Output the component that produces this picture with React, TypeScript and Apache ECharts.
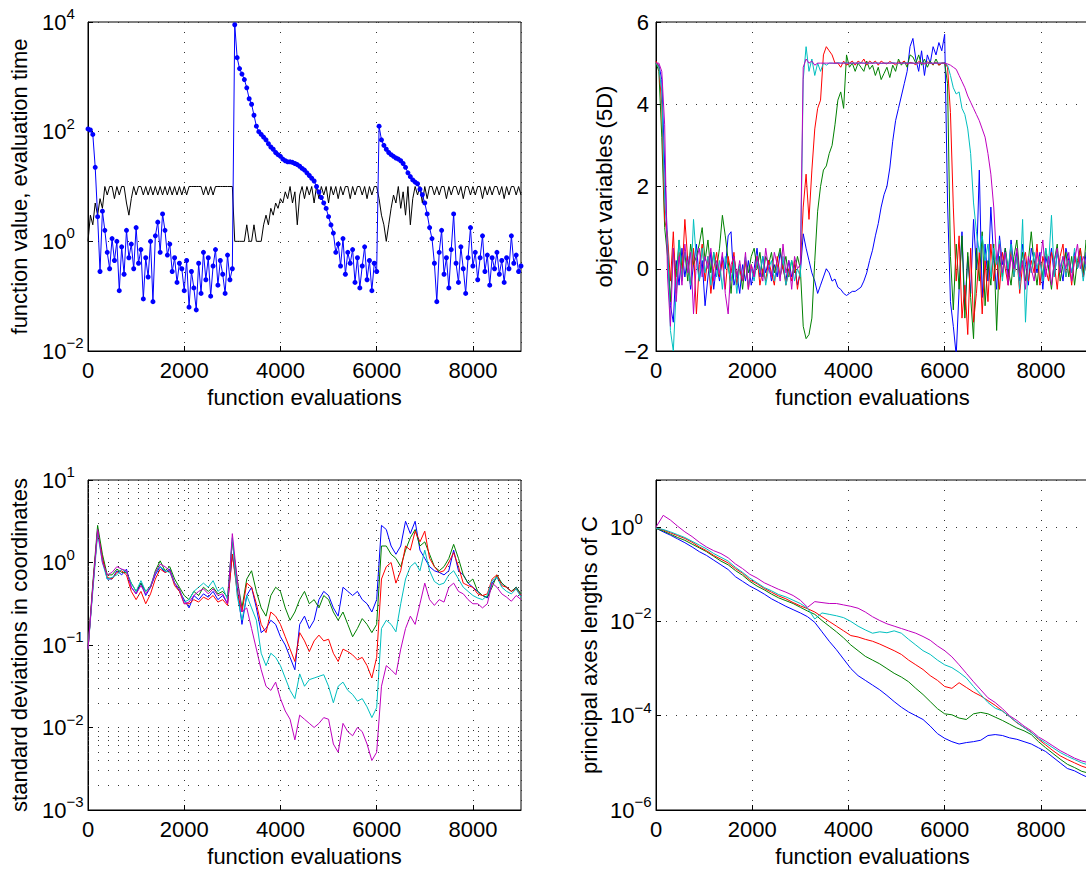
import React, { useEffect, useRef } from "react";
import * as echarts from "echarts";

const FONT = '"Liberation Sans", Arial, Helvetica, sans-serif';

// ---------- sampling of the evaluation axis ----------
const STEP_FVAL = 50; // top-left
const STEP_XVAR = 60; // top-right
const STEP_SIGMA = 100; // bottom-left
const STEP_AXES = 150; // bottom-right
const xTicks = [0, 2000, 4000, 6000, 8000];

// ---------- top-left: function value (log10) and evaluation time ----------
const fvalLog10 = [
  2.05, 2.03, 1.95, 1.35, 0.45, -0.55, 0.55, 0.2, -0.2, -0.5,
  0.05, -0.35, 0.0, -0.9, -0.1, -0.6, 0.2, -0.3, -0.05, -0.5,
  0.25, -0.4, -0.15, -1.05, -0.3, -0.65, 0.0, -1.1, 0.1, 0.35,
  -0.2, 0.5, 0.2, -0.25, -0.05, -0.55, -0.3, -0.75, -0.4, -0.5,
  -0.9, -0.35, -1.2, -0.55, -0.85, -1.25, -0.4, -0.95, -0.2, -0.7,
  -0.3, -1.0, -0.45, -0.15, -0.8, -0.35, -0.6, -0.95, -0.25, -0.7,
  -0.5, 3.95, 3.35, 3.15, 3.05, 2.95, 2.8, 2.6, 2.5, 2.3,
  2.1, 2.0, 1.95, 1.9, 1.85, 1.78, 1.72, 1.68, 1.62, 1.58,
  1.55, 1.5, 1.47, 1.45, 1.45, 1.44, 1.42, 1.4, 1.37, 1.33,
  1.3, 1.25, 1.2, 1.15, 1.1, 1.0, 0.9, 0.8, 0.7, 0.6,
  0.45, 0.3, 0.15, -0.2, -0.05, -0.45, 0.05, -0.6, -0.2, -0.4,
  -0.15, -0.75, -0.3, -0.85, -0.45, -0.1, -0.7, -0.35, -0.9, -0.4,
  -0.55, 2.1, 1.85, 1.75, 1.68, 1.62, 1.58, 1.55, 1.52, 1.5,
  1.47, 1.42, 1.35, 1.25, 1.18, 1.12, 1.08, 1.05, 0.95, 0.85,
  0.7, 0.5, 0.25, 0.05, -0.4, -1.1, -0.2, 0.2, -0.6, -0.3,
  -0.85, -0.15, 0.5, -0.4, -0.75, -0.1, -0.5, -0.95, -0.3, 0.25,
  -0.45, -0.2, -0.7, -0.3, 0.1, -0.55, -0.25, -0.8, -0.3, -0.5,
  -0.2, -0.6, -0.35, -0.75, -0.3, -0.5, 0.1, -0.4, -0.25, -0.55, -0.45,
];
const evalTime = [
  1, 3, 2, 5, 3, 6, 4, 10, 7, 10,
  10, 6, 10, 7, 10, 10, 5, 3, 6, 10,
  7, 10, 10, 7, 10, 7, 10, 7, 10, 7,
  10, 7, 10, 7, 10, 7, 10, 7, 10, 7,
  10, 7, 10, 10, 10, 10, 10, 10, 7, 10,
  7, 10, 7, 10, 10, 10, 10, 10, 10, 10,
  10, 1, 1, 1, 1, 1, 2, 1, 1, 2,
  1, 1, 1, 2, 3, 2, 4, 3, 5, 4,
  6, 5, 8, 6, 10, 5, 8, 2, 7, 10,
  6, 10, 7, 10, 5, 10, 6, 10, 7, 10,
  5, 10, 7, 10, 6, 10, 7, 10, 10, 6,
  10, 7, 10, 10, 7, 10, 6, 10, 7, 10,
  10, 6, 3, 2, 1, 2, 4, 7, 5, 10,
  4, 8, 3, 10, 2, 6, 10, 7, 10, 5,
  10, 6, 10, 10, 7, 10, 7, 10, 10, 6,
  10, 7, 10, 10, 7, 10, 6, 10, 10, 7,
  10, 7, 10, 10, 6, 10, 7, 10, 7, 10,
  10, 7, 10, 6, 10, 7, 10, 10, 7, 10, 7,
];

// ---------- top-right: object variables ----------
const xvarBlue = [
  5.0, 4.95, 4.6, 2.5, 0.6, -0.9, -1.3, 0.2, -0.4, 0.5,
  -0.2, 0.3, -0.5, 0.1, 0.6, -0.3, 0.2, -0.9, -0.2, 0.4,
  -0.5, 0.1, -0.3, 0.3, 0.0, 0.8, 0.9, -0.4, -0.1, -0.6,
  0.1, -0.3, 0.2, -0.4, 0.0, 0.5, -0.2, 0.3, -0.1, 0.2,
  -0.3, 0.1, -0.2, 0.4, 0.0, -0.3, 0.2, -0.2, 0.1, -0.4,
  -0.1, 0.85, 0.5, 0.2, -0.1, -0.3, -0.6, -0.4, -0.2, 0.0,
  -0.1, -0.3, -0.25, -0.45, -0.5, -0.6, -0.65, -0.6, -0.55, -0.55,
  -0.5, -0.45, -0.3, -0.1, 0.2, 0.45, 0.8, 1.1, 1.5, 1.8,
  2.0, 2.45, 3.1, 3.6, 3.9, 4.2, 4.5, 4.8, 5.4, 5.6,
  5.1, 4.8, 5.3, 4.7, 5.2, 5.0, 5.4, 5.2, 5.5, 5.3,
  5.7, 1.6, -0.8, -1.4, -2.1, -0.5, 0.9, -1.0, 0.3, -0.6,
  1.2, 0.0, 2.4, -0.7, 0.6, -0.3, 1.5, 0.2, -0.5, 0.8,
  0.1, 0.5, -0.2, 0.7, 0.0, 0.4, -0.3, 0.6, 0.1, -0.4,
  0.5, 0.2, -0.1, 0.4, -0.5, 0.3, 0.0, 0.5, -0.2, 0.4,
  0.1, -0.3, 0.5, 0.2, -0.1, 0.4, 0.0, 0.3, -0.2, 0.4, 0.1,
];
const xvarGreen = [
  5.0, 4.8, 3.2, 1.0, 0.3, -0.8, 0.5, -0.2, 0.7, 0.0,
  0.4, -0.3, 0.6, 0.1, 0.3, 0.6, 1.0, 0.2, 0.7, -0.1,
  0.4, 0.0, 0.5, 1.3, 0.8, 0.2, -0.6, 0.3, -0.2, 0.1,
  -0.5, 0.2, -0.1, 0.3, 0.5, 0.0, 0.4, -0.2, 0.3, 0.1,
  0.4, -0.1, 0.2, 0.5, 0.0, 0.3, -0.2, 0.2, -0.1, 0.3,
  0.0, -1.4, -1.7, -1.6, -1.2, 0.2, 1.4, 2.0, 2.4, 2.5,
  2.8, 3.0, 3.5, 4.1, 4.3, 3.9, 5.2, 4.9, 5.0, 4.8,
  5.0, 4.9, 4.8, 5.05, 4.85, 4.95, 4.7, 4.9, 4.6, 4.75,
  4.9, 4.65, 4.95, 4.8, 5.1, 4.95, 5.05, 4.9, 5.2, 5.15,
  5.0, 5.2, 4.95, 5.1, 4.9, 5.05, 4.95, 5.1, 4.95, 5.0,
  5.0, 4.5, 0.3, -1.0, 0.6, -0.5, 0.8, -1.2, 0.4, -0.7,
  -1.7, 0.5, -0.3, 0.9, -0.9, 0.2, -0.4, 0.6, -1.5, 0.3,
  -0.2, 0.5, 0.0, -0.4, 0.3, 0.7, -0.1, 0.4, -0.3, 0.2,
  0.9, 0.1, -0.4, 0.3, -0.2, 0.5, 0.0, -0.5, 0.2, 0.6,
  -0.3, 0.1, 0.4, -0.2, 0.3, -0.4, 0.2, 0.5, -0.1, 0.7, 0.2,
];
const xvarRed = [
  5.05, 4.9, 4.0, 1.2, 0.8, -0.3, 0.9, -0.6, 0.4, -0.2,
  1.2, 0.2, -0.4, 0.5, -1.1, 0.1, 0.6, -0.3, 0.3, -0.6,
  0.0, 0.4, -0.2, 0.2, -0.5, 0.3, -0.1, 0.4, -0.4, 0.0,
  -0.3, 0.2, -0.5, 0.1, -0.2, 0.3, -0.4, 0.0, -0.3, 0.2,
  -0.1, -0.4, 0.3, -0.2, 0.1, -0.4, 0.0, -0.3, 0.2, -0.5,
  0.0, 1.5, 2.3, 1.2, 2.4, 3.4, 3.9, 4.1, 5.2, 5.4,
  5.3, 5.2, 5.0, 5.0, 4.9, 5.05, 4.95, 5.0, 5.05, 4.95,
  5.05, 5.0, 5.1, 4.95, 5.05, 5.0, 5.05, 4.95, 5.05, 5.0,
  4.98, 5.04, 5.0, 4.96, 5.03, 5.0, 5.05, 4.97, 5.02, 5.0,
  4.96, 5.04, 5.0, 4.98, 5.03, 5.0, 4.97, 5.02, 4.95, 5.0,
  5.0, 4.9, 3.8, 1.5, -0.3, 0.8, -1.2, -0.4, -1.6, 0.5,
  -1.3, -0.6, 0.4, -1.1, 0.2, -0.8, 0.6, -0.3, 0.3, -0.5,
  0.4, 0.0, -0.4, 0.5, -0.2, 0.3, -0.6, 0.1, 0.4, -0.3,
  0.2, -0.1, 0.6, -0.4, 0.3, 0.0, -0.3, 0.4, 0.1, -0.5,
  0.3, 0.6, -0.2, 0.2, -0.4, 0.3, 0.0, 0.5, -0.2, 0.1, -0.9,
];
const xvarCyan = [
  5.0, 4.9, 4.3, 1.7, 0.6, -1.5, -2.0, -0.5, 0.7, -0.3,
  0.4, 0.1, -0.4, 1.2, 0.2, -0.3, 0.5, -0.1, 0.3, -0.4,
  0.4, -0.2, 0.2, -0.5, 0.3, 0.0, -0.3, 0.2, -0.6, 0.1,
  -0.2, 0.3, -0.4, 0.0, -0.3, 0.2, -0.1, 0.3, -0.4, 0.0,
  0.2, -0.3, 0.1, -0.2, 0.3, -0.4, -0.1, 0.2, -0.3, 0.0,
  -0.2, 4.6, 5.4, 4.8, 5.1, 4.7, 5.0, 4.8, 5.0, 4.95,
  5.0, 5.0, 4.99, 5.01, 5.0, 5.0, 5.01, 4.99, 5.0, 5.0,
  5.0, 5.01, 5.0, 4.99, 5.0, 5.0, 5.01, 5.0, 4.99, 5.0,
  5.0, 5.0, 5.01, 5.0, 4.99, 5.0, 5.0, 5.01, 5.0, 5.0,
  4.99, 5.0, 5.0, 5.01, 5.0, 5.0, 4.99, 5.0, 5.0, 5.0,
  5.0, 4.95, 4.7, 4.4, 4.25, 4.3, 3.9, 3.75, 3.4, 2.8,
  1.6, 0.9, 0.4, 0.8, 0.2, 0.6, -0.2, 0.5, 0.1, 0.7,
  -0.3, 0.4, 0.0, 0.6, -0.2, 0.3, -0.5, 1.2, -1.3, 0.2,
  -0.1, 0.4, 0.0, 0.3, -0.3, 0.5, 0.1, 1.3, -0.2, 0.4,
  0.0, 0.3, -0.2, 0.2, -0.1, 0.5, 0.0, 0.3, -0.3, 0.2, -0.5,
];
const xvarMagenta = [
  5.0, 5.0, 4.8, 3.5, -0.2, -1.4, 0.5, -0.8, 0.3, -0.4,
  0.6, -0.1, 0.4, -1.1, 0.2, 0.5, -0.2, 0.3, 0.0, 0.5,
  -0.3, 0.2, -0.1, 0.4, -0.6, -1.1, 0.1, 0.3, -0.2, 0.2,
  -0.3, 0.4, -0.5, 0.1, -0.2, 0.3, 0.0, -0.3, 0.5, 0.0,
  -0.2, 0.4, 0.1, -0.3, 0.6, -0.1, 0.2, -0.5, 0.3, 0.0,
  0.1, 4.9, 5.1, 5.0, 5.05, 4.95, 5.0, 5.0, 5.0, 5.0,
  5.0, 5.0, 5.0, 5.0, 5.0, 5.0, 5.0, 5.0, 5.0, 5.0,
  5.0, 5.0, 5.0, 5.0, 5.0, 5.0, 5.0, 5.0, 5.0, 5.0,
  5.0, 5.0, 5.0, 5.0, 5.0, 5.0, 5.0, 5.0, 5.0, 5.0,
  5.0, 5.0, 5.0, 5.0, 5.0, 5.0, 5.0, 5.0, 5.0, 5.0,
  5.0, 4.98, 4.95, 4.9, 4.85, 4.7, 4.55, 4.4, 4.2, 4.05,
  3.9, 3.75, 3.6, 3.4, 3.2, 2.8, 2.3, 1.5, 0.2, 0.6,
  -0.1, 0.4, -0.4, 0.3, 0.0, 0.5, -0.2, 0.2, -0.5, 0.3,
  0.0, -0.3, 0.4, 0.1, 0.7, -0.2, 0.3, -0.4, 0.2, 0.5,
  -0.1, 0.3, 0.0, 0.4, -0.3, 0.2, 0.6, 0.0, 0.3, 0.1, 0.3,
];

// ---------- bottom-left: standard deviations (log10) ----------
const sigmaBlue = [
  -1.05, -0.3, 0.4, 0.05, -0.2, -0.2, -0.1, -0.15, -0.08, -0.3,
  -0.38, -0.25, -0.4, -0.3, -0.15, -0.05, -0.12, -0.08, -0.25, -0.35,
  -0.45, -0.55, -0.4, -0.45, -0.38, -0.42, -0.35, -0.45, -0.4, -0.5,
  0.1, -0.3, -0.75, -0.4, -0.3, -0.55, -0.85, -0.8, -0.7, -0.75,
  -0.9, -1.0, -1.15, -1.3, -0.75, -0.65, -0.8, -0.7, -0.45, -0.35,
  -0.4, -0.55, -0.65, -0.3, -0.35, -0.4, -0.35, -0.45, -0.5, -0.6,
  -0.45, 0.45, 0.4, 0.2, 0.1, 0.2, 0.5, 0.35, 0.5, 0.15,
  0.05, -0.05, -0.1, -0.12, -0.15, -0.1, 0.15, -0.1, -0.15, -0.25,
  -0.3, -0.35, -0.4, -0.43, -0.25, -0.18, -0.25, -0.3, -0.35, -0.3, -0.4,
];
const sigmaGreen = [
  -1.05, -0.25, 0.45, 0.1, -0.15, -0.15, -0.08, -0.12, -0.12, -0.25,
  -0.35, -0.25, -0.35, -0.3, -0.1, 0.02, -0.1, -0.05, -0.2, -0.3,
  -0.4, -0.45, -0.35, -0.4, -0.3, -0.35, -0.3, -0.38, -0.35, -0.42,
  0.25, -0.2, -0.55, -0.2, -0.1, -0.35, -0.55, -0.65, -0.4, -0.3,
  -0.35, -0.55, -0.7, -0.6, -0.45, -0.35, -0.5, -0.45, -0.55, -0.4,
  -0.45, -0.6, -0.7, -0.6, -0.75, -0.9, -0.8, -0.68, -0.75, -0.85,
  -0.75, 0.2, 0.2, 0.1, 0.05, -0.05, 0.15, 0.3, 0.4, 0.2,
  0.25, 0.1, -0.05, -0.1, -0.05, 0.05, 0.22, 0.05, -0.15, -0.25,
  -0.2, -0.35, -0.4, -0.42, -0.3, -0.15, -0.25, -0.3, -0.35, -0.3, -0.38,
];
const sigmaRed = [
  -1.05, -0.3, 0.38, 0.05, -0.18, -0.2, -0.12, -0.1, -0.15, -0.35,
  -0.45, -0.35, -0.5, -0.38, -0.2, -0.08, -0.12, -0.1, -0.28, -0.35,
  -0.5, -0.5, -0.45, -0.48, -0.42, -0.45, -0.4, -0.48, -0.45, -0.52,
  0.1, -0.35, -0.6, -0.25, -0.3, -0.5, -0.75, -0.85, -0.6, -0.65,
  -0.75, -0.9, -1.05, -1.2, -0.85, -0.95, -1.08, -0.95, -0.88, -0.95,
  -0.93, -1.1, -1.2, -1.05, -1.08, -1.12, -1.18, -1.15, -1.25, -1.4,
  -1.15, -0.2, -0.05, 0.0, -0.25, -0.1, 0.2, 0.15, 0.38, 0.25,
  0.38, 0.05, -0.05, -0.12, -0.1, 0.0, 0.12, -0.05, -0.25, -0.28,
  -0.3, -0.38, -0.4, -0.38, -0.2, -0.15, -0.28, -0.3, -0.35, -0.32, -0.4,
];
const sigmaCyan = [
  -1.05, -0.35, 0.35, 0.0, -0.2, -0.18, -0.15, -0.08, -0.12, -0.25,
  -0.35, -0.22, -0.35, -0.28, -0.12, -0.05, -0.1, -0.12, -0.25, -0.32,
  -0.48, -0.45, -0.35, -0.3, -0.25, -0.3, -0.22, -0.35, -0.3, -0.45,
  0.3, -0.4, -0.7, -0.4, -0.55, -0.7, -1.1, -1.25, -1.1, -1.15,
  -1.25, -1.4, -1.55, -1.65, -1.35, -1.5, -1.42, -1.4, -1.38, -1.36,
  -1.5, -1.7, -1.5, -1.45, -1.55, -1.6, -1.68, -1.65, -1.75, -1.88,
  -1.76, -0.8, -0.7, -0.75, -0.84, -0.5, -0.2, -0.05, 0.0, -0.1,
  0.15, -0.1, -0.23, -0.27, -0.25, -0.15, -0.1, -0.2, -0.3, -0.35,
  -0.4, -0.43, -0.45, -0.4, -0.22, -0.18, -0.3, -0.35, -0.38, -0.32, -0.42,
];
const sigmaMagenta = [
  -1.05, -0.3, 0.4, 0.0, -0.15, -0.12, -0.05, -0.08, -0.1, -0.3,
  -0.38, -0.28, -0.38, -0.3, -0.12, -0.02, -0.05, -0.1, -0.25, -0.32,
  -0.5, -0.48, -0.4, -0.35, -0.32, -0.38, -0.32, -0.4, -0.38, -0.5,
  0.35, -0.2, -0.6, -0.55, -0.8, -1.05, -1.3, -1.5, -1.55, -1.45,
  -1.65, -1.8, -1.9, -2.15, -1.85, -1.9, -1.95, -2.0, -1.95, -1.88,
  -1.9, -2.2, -2.3, -1.95, -2.05, -2.1, -2.0, -2.05, -2.2, -2.4,
  -2.3, -1.5, -1.25, -1.3, -1.36, -1.05, -0.8, -0.65, -0.75, -0.5,
  -0.25, -0.45, -0.52, -0.45, -0.48, -0.3, -0.25, -0.35, -0.38, -0.45,
  -0.5, -0.5, -0.55, -0.5, -0.25, -0.3, -0.38, -0.42, -0.47, -0.4, -0.45,
];
const sigmaMinorGrid = [
  0.002, 0.003, 0.004, 0.005, 0.006, 0.007, 0.008, 0.009,
  0.02, 0.03, 0.04, 0.05, 0.06, 0.07, 0.08, 0.09,
  0.2, 0.3, 0.4, 0.5, 0.6, 0.7, 0.8, 0.9,
  2, 3, 4, 5, 6, 7, 8, 9,
];

// ---------- bottom-right: principal axes lengths (log10) ----------
const axesBlue = [
  -0.02, -0.1, -0.17, -0.25, -0.33, -0.42, -0.52, -0.6, -0.7, -0.8,
  -0.9, -1.05, -1.15, -1.25, -1.33, -1.42, -1.52, -1.6, -1.68, -1.75,
  -1.82, -1.9, -2.02, -2.22, -2.42, -2.6, -2.8, -3.0, -3.15, -3.25,
  -3.35, -3.45, -3.57, -3.7, -3.82, -3.92, -4.0, -4.08, -4.22, -4.38,
  -4.48, -4.55, -4.6, -4.57, -4.55, -4.52, -4.42, -4.4, -4.42, -4.47,
  -4.5, -4.55, -4.6, -4.68, -4.76, -4.88, -5.0, -5.12, -5.17, -5.25, -5.32,
];
const axesGreen = [
  -0.03, -0.08, -0.15, -0.22, -0.28, -0.36, -0.44, -0.52, -0.62, -0.72,
  -0.8, -0.92, -1.02, -1.15, -1.25, -1.33, -1.42, -1.5, -1.56, -1.62,
  -1.7, -1.78, -1.85, -1.98, -2.1, -2.22, -2.35, -2.5, -2.62, -2.74,
  -2.82, -2.9, -3.0, -3.1, -3.18, -3.28, -3.42, -3.55, -3.7, -3.85,
  -3.96, -3.98, -4.05, -4.08, -3.96, -3.93, -3.96, -4.03, -4.1, -4.18,
  -4.26, -4.32, -4.4, -4.55, -4.68, -4.8, -4.92, -5.03, -5.1, -5.18, -5.22,
];
const axesRed = [
  -0.02, -0.06, -0.12, -0.18, -0.24, -0.32, -0.42, -0.5, -0.6, -0.68,
  -0.76, -0.88, -0.98, -1.12, -1.2, -1.3, -1.38, -1.46, -1.52, -1.6,
  -1.67, -1.73, -1.8, -1.9, -2.0, -2.1, -2.2, -2.3, -2.33, -2.38,
  -2.42, -2.48, -2.55, -2.62, -2.7, -2.82, -2.92, -3.02, -3.15, -3.25,
  -3.38, -3.42, -3.3, -3.4, -3.5, -3.58, -3.68, -3.78, -3.9, -4.02,
  -4.15, -4.25, -4.35, -4.5, -4.62, -4.74, -4.85, -4.93, -5.0, -5.07, -5.12,
];
const axesCyan = [
  -0.02, -0.05, -0.1, -0.16, -0.22, -0.3, -0.38, -0.46, -0.56, -0.64,
  -0.72, -0.85, -0.96, -1.08, -1.18, -1.28, -1.35, -1.43, -1.48, -1.55,
  -1.62, -1.72, -1.95, -1.82, -1.85, -1.88, -1.92, -2.0, -2.1, -2.18,
  -2.25, -2.22, -2.24, -2.2, -2.25, -2.38, -2.5, -2.62, -2.7, -2.82,
  -2.92, -2.98, -3.08, -3.2, -3.38, -3.55, -3.72, -3.84, -3.9, -4.02,
  -4.14, -4.25, -4.36, -4.48, -4.58, -4.68, -4.78, -4.86, -4.93, -5.0, -5.05,
];
const axesMagenta = [
  0.0, 0.25, 0.15, 0.02, -0.1, -0.2, -0.32, -0.42, -0.5, -0.56,
  -0.65, -0.78, -0.88, -1.0, -1.08, -1.18, -1.25, -1.32, -1.38, -1.45,
  -1.55, -1.7, -1.58, -1.6, -1.62, -1.62, -1.65, -1.68, -1.72, -1.8,
  -1.9, -1.98, -2.05, -2.1, -2.15, -2.2, -2.25, -2.32, -2.4, -2.52,
  -2.62, -2.75, -2.92, -3.1, -3.28, -3.45, -3.62, -3.72, -3.85, -4.0,
  -4.1, -4.22, -4.32, -4.45, -4.54, -4.64, -4.74, -4.82, -4.9, -4.96, -5.0,
];

const C = {
  blue: "#0000ff",
  green: "#008000",
  red: "#ff0000",
  cyan: "#00bfbf",
  magenta: "#bf00bf",
  black: "#000000",
};

const toPts = (vals: number[], step: number) => vals.map((v, i) => [i * step, v]);

const minus = (n: number) => (n < 0 ? "\u2212" + Math.abs(n) : String(n));

const dotted = { color: "#333", width: 1, type: [1, 9] as number[] };

const richLog = {
  b: { fontSize: 22, fontFamily: FONT, color: "#000", lineHeight: 32, verticalAlign: "middle" },
  e: { fontSize: 15, fontFamily: FONT, color: "#000", lineHeight: 15, verticalAlign: "top" },
};

function logLabel(v: number) {
  const e = Math.round(v);
  if (Math.abs(v - e) > 1e-6) return "";
  return `{b|10}{e|${minus(e)}}`;
}

function xAxis(gridIndex: number) {
  return {
    type: "value",
    gridIndex,
    min: 0,
    max: 9000,
    interval: 2000,
    name: "function evaluations",
    nameLocation: "middle",
    nameGap: 35,
    nameTextStyle: { fontSize: 22, fontFamily: FONT, color: "#000" },
    axisLine: { show: true, onZero: false, lineStyle: { color: "#000", width: 1 } },
    axisTick: { show: true, inside: true, length: 5, lineStyle: { color: "#000" } },
    axisLabel: {
      fontSize: 22,
      fontFamily: FONT,
      color: "#000",
      margin: 8,
      showMaxLabel: false,
      formatter: (v: number) => (xTicks.includes(v) ? String(v) : ""),
    },
    splitLine: { show: true, lineStyle: dotted },
  };
}

function yAxisLog(gridIndex: number, min: number, max: number, interval: number, name: string, nameGap: number) {
  return {
    type: "value",
    gridIndex,
    min,
    max,
    interval,
    name,
    nameLocation: "middle",
    nameRotate: 90,
    nameGap,
    nameTextStyle: { fontSize: 22, fontFamily: FONT, color: "#000" },
    axisLine: { show: true, onZero: false, lineStyle: { color: "#000", width: 1 } },
    axisTick: { show: true, inside: true, length: 5, lineStyle: { color: "#000" } },
    axisLabel: {
      align: "left",
      margin: 46,
      formatter: (v: number) => (v > max - 1e-9 && (max - min) % interval !== 0 ? "" : logLabel(v)),
      rich: richLog,
    },
    splitLine: { show: true, lineStyle: dotted },
  };
}

function line(name: string, data: number[][], color: string, xi: number, extra: any = {}) {
  return {
    type: "line",
    name,
    xAxisIndex: xi,
    yAxisIndex: xi,
    data,
    symbol: "none",
    lineStyle: { color, width: 1 },
    itemStyle: { color },
    silent: true,
    clip: true,
    ...extra,
  };
}

function buildOption() {
  const grids = [
    { left: 88, top: 22, width: 433, height: 329 },
    { left: 656, top: 22, width: 433, height: 329 },
    { left: 88, top: 480, width: 433, height: 330 },
    { left: 656, top: 480, width: 433, height: 330 },
  ].map((g) => ({ ...g, show: true, borderColor: "#000", borderWidth: 1, backgroundColor: "#fff", containLabel: false, outerBoundsMode: "none" }));

  const series: any[] = [
    line("evaluation time", evalTime.map((v, i) => [i * STEP_FVAL, Math.log10(v)]), C.black, 0),
    line("function value", toPts(fvalLog10, STEP_FVAL), C.blue, 0, {
      symbol: "circle",
      symbolSize: 5,
      showSymbol: true,
    }),
    line("x1", toPts(xvarBlue, STEP_XVAR), C.blue, 1),
    line("x2", toPts(xvarGreen, STEP_XVAR), C.green, 1),
    line("x3", toPts(xvarRed, STEP_XVAR), C.red, 1),
    line("x4", toPts(xvarCyan, STEP_XVAR), C.cyan, 1),
    line("x5", toPts(xvarMagenta, STEP_XVAR), C.magenta, 1),
    line("s1", toPts(sigmaBlue, STEP_SIGMA), C.blue, 2, {
      markLine: {
        silent: true,
        symbol: "none",
        label: { show: false },
        lineStyle: dotted,
        emphasis: { disabled: true },
        data: sigmaMinorGrid.map((v) => ({ yAxis: Math.log10(v) })),
      },
    }),
    line("s2", toPts(sigmaGreen, STEP_SIGMA), C.green, 2),
    line("s3", toPts(sigmaRed, STEP_SIGMA), C.red, 2),
    line("s4", toPts(sigmaCyan, STEP_SIGMA), C.cyan, 2),
    line("s5", toPts(sigmaMagenta, STEP_SIGMA), C.magenta, 2),
    line("a1", toPts(axesBlue, STEP_AXES), C.blue, 3),
    line("a2", toPts(axesGreen, STEP_AXES), C.green, 3),
    line("a3", toPts(axesRed, STEP_AXES), C.red, 3),
    line("a4", toPts(axesCyan, STEP_AXES), C.cyan, 3),
    line("a5", toPts(axesMagenta, STEP_AXES), C.magenta, 3),
  ];

  return {
    animation: false,
    backgroundColor: "#fff",
    textStyle: { fontFamily: FONT },
    grid: grids,
    xAxis: [xAxis(0), xAxis(1), xAxis(2), xAxis(3)],
    yAxis: [
      yAxisLog(0, -2, 4, 2, "function value, evaluation time", 58),
      {
        type: "value",
        gridIndex: 1,
        min: -2,
        max: 6,
        interval: 2,
        name: "object variables (5D)",
        nameLocation: "middle",
        nameRotate: 90,
        nameGap: 41,
        nameTextStyle: { fontSize: 22, fontFamily: FONT, color: "#000" },
        axisLine: { show: true, onZero: false, lineStyle: { color: "#000", width: 1 } },
        axisTick: { show: true, inside: true, length: 5, lineStyle: { color: "#000" } },
        axisLabel: { fontSize: 22, fontFamily: FONT, color: "#000", margin: 7, formatter: (v: number) => minus(v) },
        splitLine: { show: true, lineStyle: dotted },
      },
      yAxisLog(2, -3, 1, 1, "standard deviations in coordinates", 58),
      yAxisLog(3, -6, 1, 2, "principal axes lengths of C", 56),
    ],
    series,
  };
}

export default function App() {
  const ref = useRef<HTMLDivElement>(null);
  useEffect(() => {
    if (!ref.current) return;
    const chart = echarts.init(ref.current, null, { renderer: "svg" });
    chart.setOption(buildOption() as any);
    return () => chart.dispose();
  }, []);
  return (
    <div
      ref={ref}
      style={{ position: "absolute", left: 0, top: 0, width: 1086, height: 871, background: "#fff" }}
    />
  );
}
